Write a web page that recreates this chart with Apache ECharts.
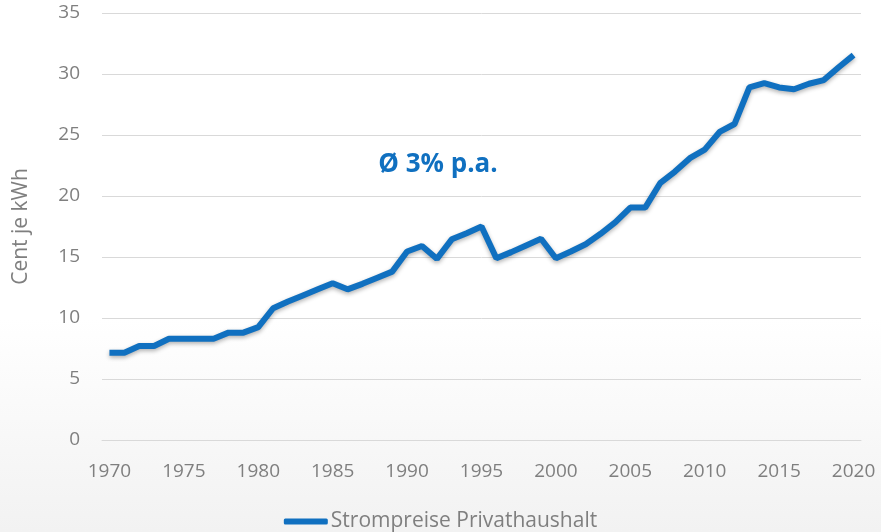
<!DOCTYPE html>
<html>
<head>
<meta charset="utf-8">
<script src="https://cdn.jsdelivr.net/npm/echarts@6/dist/echarts.min.js"></script>
<style>
  html, body { margin: 0; padding: 0; }
  #chart { width: 881px; height: 532px; }
</style>
</head>
<body>
<div id="chart"></div>
<script>
// Jahre und Strompreise (Cent je kWh)
const years = [];
for (let y = 1970; y <= 2020; y++) years.push(String(y));

const prices = [
  7.15, 7.15, 7.7, 7.7, 8.3, 8.3, 8.3, 8.3, 8.8, 8.8,
  9.25, 10.8, 11.35, 11.85, 12.35, 12.85, 12.35, 12.8, 13.3, 13.8,
  15.45, 15.9, 14.85, 16.45, 16.95, 17.5, 14.9, 15.4, 15.95, 16.5,
  14.9, 15.45, 16.05, 16.9, 17.85, 19.05, 19.05, 21.05, 22.0, 23.1,
  23.8, 25.25, 25.9, 28.9, 29.25, 28.9, 28.75, 29.2, 29.5, 30.55,
  31.55
];

const seriesName = 'Strompreise Privathaushalt';
const yTicks = [0, 5, 10, 15, 20, 25, 30, 35];

const chart = echarts.init(document.getElementById('chart'));
const font = '"Open Sans", sans-serif';

const option = {
  animation: false,
  textStyle: { fontFamily: font },
  graphic: [
    {
      type: 'rect',
      z: -10,
      silent: true,
      shape: { x: 0, y: 0, width: 881, height: 532 },
      style: {
        fill: new echarts.graphic.LinearGradient(0, 0, 0, 1, [
          { offset: 0, color: '#ffffff' },
          { offset: 0.6, color: '#ffffff' },
          { offset: 1, color: '#f2f2f2' }
        ])
      }
    },
    {
      type: 'text',
      x: 438,
      y: 165,
      style: {
        text: 'Ø 3% p.a.',
        fill: '#1070c0',
        font: 'bold 26px "Open Sans", sans-serif',
        align: 'center',
        verticalAlign: 'middle'
      }
    }
  ],
  grid: { left: 102, right: 20, top: 13, bottom: 92 },
  legend: {
    top: 506,
    left: 'center',
    itemWidth: 44,
    itemHeight: 6,
    itemGap: 4,
    icon: 'roundRect',
    textStyle: { color: '#7f7f7f', fontSize: 21, fontFamily: font, padding: [0, 0, 0, -2] },
    data: [seriesName]
  },
  xAxis: {
    type: 'category',
    data: years,
    boundaryGap: true,
    axisLine: { show: true, lineStyle: { color: '#d9d9d9' } },
    axisTick: { show: false },
    axisLabel: {
      interval: 4,
      color: '#7f7f7f',
      fontSize: 19,
      margin: 22
    }
  },
  yAxis: {
    type: 'value',
    min: yTicks[0],
    max: yTicks[yTicks.length - 1],
    interval: 5,
    name: 'Cent je kWh',
    nameLocation: 'middle',
    nameGap: 70,
    nameTextStyle: { color: '#7f7f7f', fontSize: 21 },
    axisLine: { show: false },
    axisTick: { show: false },
    axisLabel: { color: '#7f7f7f', fontSize: 19, margin: 22 },
    splitLine: { lineStyle: { color: '#d9d9d9', width: 1 } }
  },
  series: [
    {
      name: seriesName,
      type: 'line',
      data: prices,
      symbol: 'none',
      color: '#1070c0',
      lineStyle: {
        width: 6,
        color: '#1070c0',
        shadowColor: 'rgba(0,0,0,0.3)',
        shadowBlur: 4,
        shadowOffsetY: 2
      }
    }
  ]
};

chart.setOption(option);
window.addEventListener('resize', function () {
  chart.resize();
});
</script>
</body>
</html>
